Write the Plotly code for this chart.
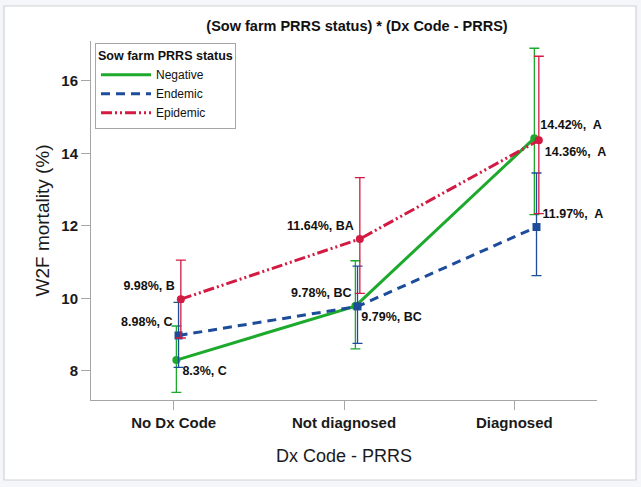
import plotly.graph_objects as go

categories = ["No Dx Code", "Not diagnosed", "Diagnosed"]

neg_mean = [8.3, 9.79, 14.42]
neg_upper = [9.24, 11.04, 16.90]
neg_lower = [7.41, 8.61, 12.31]
neg_group = ["C", "BC", "A"]

end_mean = [8.98, 9.78, 11.97]
end_upper = [9.89, 10.89, 13.46]
end_lower = [8.10, 8.76, 10.63]
end_group = ["C", "BC", "A"]

epi_mean = [9.98, 11.64, 14.36]
epi_upper = [11.06, 13.33, 16.68]
epi_lower = [8.91, 10.14, 12.34]
epi_group = ["B", "BA", "A"]

y_ticks = [8, 10, 12, 14, 16]

GREEN = "#1daa2c"
BLUE = "#1c4c9a"
RED = "#d21a42"

series = [
    dict(name="Negative", mean=neg_mean, up=neg_upper, lo=neg_lower, grp=neg_group,
         color=GREEN, dash="solid", symbol="circle", dodge=-0.012,
         pos=["bottom right", "bottom right", "top right"]),
    dict(name="Endemic", mean=end_mean, up=end_upper, lo=end_lower, grp=end_group,
         color=BLUE, dash="9px,6px", symbol="square", dodge=0.0,
         pos=["top left", "top left", "top right"]),
    dict(name="Epidemic", mean=epi_mean, up=epi_upper, lo=epi_lower, grp=epi_group,
         color=RED, dash="11px,3px,2px,3px,2px,3px", symbol="circle", dodge=0.013,
         pos=["top left", "top left", "bottom right"]),
]

fig = go.Figure()

# dummy trace to establish the categorical tick axis
fig.add_trace(go.Scatter(x=categories, y=[None] * len(categories), xaxis="x2",
                         mode="markers", showlegend=False, hoverinfo="skip"))

for s in series:
    xs = [i + s["dodge"] for i in range(len(categories))]
    texts = []
    for v, g in zip(s["mean"], s["grp"]):
        sep = "\u00a0 " if g == "A" else " "
        texts.append(f"{v}%,{sep}{g}")
    fig.add_trace(go.Scatter(
        x=xs, y=s["mean"], name=s["name"], showlegend=False,
        mode="lines+markers+text", cliponaxis=False,
        line=dict(color=s["color"], width=3, dash=s["dash"]),
        marker=dict(color=s["color"], size=8, symbol=s["symbol"]),
        text=texts, textposition=s["pos"],
        textfont=dict(family="Liberation Sans, Arial, sans-serif", size=12.5,
                      color="#111111", weight="bold"),
        error_y=dict(type="data", symmetric=False,
                     array=[u - m for u, m in zip(s["up"], s["mean"])],
                     arrayminus=[m - l for m, l in zip(s["mean"], s["lo"])],
                     color=s["color"], thickness=1.3, width=5),
    ))

# legend entries show line style only
for s in series:
    fig.add_trace(go.Scatter(x=[None], y=[None], name=s["name"], mode="lines",
                             line=dict(color=s["color"], width=3, dash=s["dash"]),
                             hoverinfo="skip"))

# paper-coordinate helpers for the outer frame
L, R, T, B = 91, 44, 41, 87
W, H = 641, 487
pw, ph = W - L - R, H - T - B

def px_x(p):
    return (p - L) / pw

def px_y(p):
    return (H - B - p) / ph

fig.add_shape(type="rect", xref="paper", yref="paper",
              x0=px_x(4), x1=px_x(636), y0=px_y(480), y1=px_y(6),
              fillcolor="white", line=dict(color="#cfd2d6", width=1.2), layer="below")

fig.update_layout(
    width=W, height=H,
    margin=dict(l=L, r=R, t=T, b=B),
    paper_bgcolor="#f4f6fa",
    plot_bgcolor="white",
    font=dict(family="Liberation Sans, Arial, sans-serif", color="#111111"),
    title=dict(text="<b>(Sow farm PRRS status) * (Dx Code - PRRS)</b>",
               x=px_x(357), xref="paper", xanchor="center",
               y=1 - 26 / H, yref="container", yanchor="middle",
               font=dict(size=14.5, color="#111111")),
    xaxis=dict(range=[-0.489, 2.338], visible=False, fixedrange=True),
    xaxis2=dict(overlaying="x", side="bottom", type="category",
                range=[-0.485, 2.485],
                showline=True, linecolor="#a6a6a6", linewidth=1,
                ticks="outside", ticklen=9, tickcolor="#a6a6a6",
                showgrid=False, zeroline=False,
                tickfont=dict(size=15, color="#1a1a1a", weight="bold"),
                title=dict(text="Dx Code - PRRS", font=dict(size=18, color="#1a1a1a"),
                           standoff=19)),
    yaxis=dict(range=[7.2, 17.1], tickvals=y_ticks,
               showline=True, linecolor="#a6a6a6", linewidth=1,
               ticks="outside", ticklen=9, tickcolor="#a6a6a6",
               showgrid=False, zeroline=False,
               tickfont=dict(size=15, color="#1a1a1a", weight="bold"),
               title=dict(text="W2F mortality (%)", font=dict(size=19, color="#1a1a1a"),
                          standoff=6)),
    legend=dict(x=px_x(95), y=px_y(43), xanchor="left", yanchor="top",
                bgcolor="white", bordercolor="#a6a6a6", borderwidth=1,
                title=dict(text="<b>Sow farm PRRS status</b>", font=dict(size=12.5)),
                font=dict(size=12), itemwidth=50, tracegroupgap=0),
    showlegend=True,
)

fig.write_html("out.html", config={"displayModeBar": False},
               post_script="document.body.style.margin='0px';document.body.style.overflow='hidden';")
